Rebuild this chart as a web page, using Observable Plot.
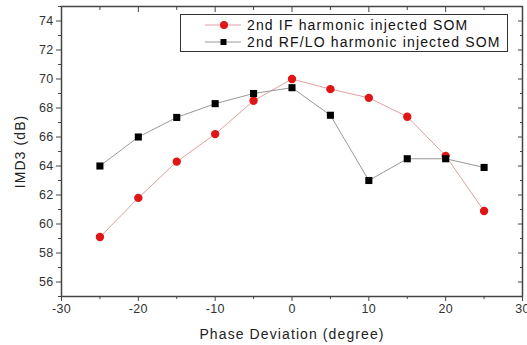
<!DOCTYPE html>
<html><head><meta charset="utf-8">
<script src="https://cdn.jsdelivr.net/npm/d3@7"></script>
<script src="https://cdn.jsdelivr.net/npm/@observablehq/plot@0.6"></script>
<style>
body{margin:0;background:#fff;font-family:"Liberation Sans",Arial,sans-serif;}
#wrap{position:relative;width:527px;height:345px;}
#legend{position:absolute;left:180px;top:14px;width:328px;height:38px;border:1.3px solid #333;background:#fff;font-size:14px;letter-spacing:1.15px;color:#111;box-sizing:border-box;}
#legend .row{position:absolute;left:0;height:16px;display:flex;align-items:center;white-space:nowrap;}
#legend svg{display:block}
g[aria-label="x-axis label"] text, g[aria-label="y-axis label"] text{font-size:14px;letter-spacing:1.1px;fill:#222;}
g[aria-label="x-axis tick label"] text, g[aria-label="y-axis tick label"] text{letter-spacing:0.3px;}
</style></head>
<body><div id="wrap"><div id="legend"></div></div>
<script>
const phase = [-25,-20,-15,-10,-5,0,5,10,15,20,25];
const ifSeries = [59.1,61.8,64.3,66.2,68.5,70.0,69.3,68.7,67.4,64.7,60.9];
const rfloSeries = [64.0,66.0,67.35,68.3,69.0,69.4,67.5,63.0,64.5,64.5,63.9];
const seriesNames = ["2nd IF harmonic injected SOM","2nd RF/LO harmonic injected SOM"];
const xMajor = [-30,-20,-10,0,10,20,30];
const xMinor = [-25,-15,-5,5,15,25];
const yMajor = [56,58,60,62,64,66,68,70,72,74];
const yMinor = [55,57,59,61,63,65,67,69,71,73,75];

const dIF = phase.map((p,i)=>({x:p,y:ifSeries[i]}));
const dRF = phase.map((p,i)=>({x:p,y:rfloSeries[i]}));
const axisColor = "#444";
const fmt = d => String(d);

const chart = Plot.plot({
  width:527, height:345,
  marginLeft:61, marginRight:5, marginTop:6, marginBottom:49,
  style:{fontFamily:"'Liberation Sans',Arial,sans-serif", fontSize:"12px", color:"#333", background:"#fff", overflow:"visible"},
  x:{domain:[-30,30]},
  y:{domain:[55,75]},
  marks:[
    Plot.frame({stroke:axisColor, strokeWidth:1.5}),
    Plot.axisX({anchor:"bottom", ticks:xMajor, tickSize:5, tickPadding:3, tickFormat:fmt, fontSize:12.5, stroke:axisColor, fill:"#333", label:"Phase Deviation (degree)", labelAnchor:"center", labelOffset:42, labelArrow:"none"}),
    Plot.axisX({anchor:"bottom", ticks:xMinor, tickSize:3, tickFormat:()=>"", stroke:axisColor, label:null}),
    Plot.axisX({anchor:"top", ticks:xMajor, tickSize:-5, tickFormat:()=>"", stroke:axisColor, label:null}),
    Plot.axisX({anchor:"top", ticks:xMinor, tickSize:-3, tickFormat:()=>"", stroke:axisColor, label:null}),
    Plot.axisY({anchor:"left", ticks:yMajor, tickSize:5, tickPadding:3, tickFormat:fmt, fontSize:12.5, stroke:axisColor, fill:"#333", label:"IMD3 (dB)", labelAnchor:"center", labelOffset:46, labelArrow:"none"}),
    Plot.axisY({anchor:"left", ticks:yMinor, tickSize:3, tickFormat:()=>"", stroke:axisColor, label:null}),
    Plot.axisY({anchor:"right", ticks:yMajor, tickSize:-5, tickFormat:()=>"", stroke:axisColor, label:null}),
    Plot.axisY({anchor:"right", ticks:yMinor, tickSize:-3, tickFormat:()=>"", stroke:axisColor, label:null}),
    Plot.line(dIF,{x:"x",y:"y",stroke:"#e0a0a0",strokeWidth:1}),
    Plot.line(dRF,{x:"x",y:"y",stroke:"#999",strokeWidth:1}),
    Plot.dot(dIF,{x:"x",y:"y",r:4.2,fill:"#e01515",stroke:"none"}),
    Plot.dot(dRF,{x:"x",y:"y",r:4,symbol:"square",fill:"#000",stroke:"none"})
  ]
});
const wrap = document.getElementById("wrap");
wrap.insertBefore(chart, wrap.firstChild);

const legend = document.getElementById("legend");
const legendStyles = [{line:"#e0a0a0", fill:"#e01515", shape:"circle"},{line:"#999", fill:"#000", shape:"square"}];
seriesNames.forEach((name,i)=>{
  const row = document.createElement("div");
  row.className="row";
  row.style.top = (i===0? 2 : 19)+"px";
  const s = legendStyles[i];
  const marker = s.shape==="circle" ? `<circle cx="43" cy="8" r="4" fill="${s.fill}"/>` : `<rect x="39.5" y="5" width="6" height="6" fill="${s.fill}"/>`;
  row.innerHTML = `<svg width="66" height="16"><line x1="24" x2="60" y1="8" y2="8" stroke="${s.line}" stroke-width="1"/>${marker}</svg><span>${name}</span>`;
  legend.appendChild(row);
});
</script></body></html>
